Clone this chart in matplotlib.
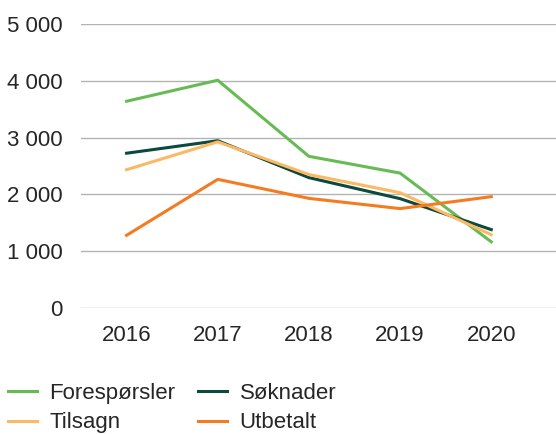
import matplotlib.pyplot as plt
from matplotlib.ticker import FuncFormatter

plt.rcParams['font.family'] = ['Liberation Sans', 'DejaVu Sans']

years = ['2016', '2017', '2018', '2019', '2020']
foresporsler = [3640, 4010, 2670, 2375, 1165]
soknader = [2725, 2945, 2295, 1925, 1380]
tilsagn = [2435, 2925, 2350, 2030, 1290]
utbetalt = [1280, 2265, 1930, 1750, 1960]

series = [
    ('Forespørsler', foresporsler, '#66bb55'),
    ('Søknader', soknader, '#0c4a3e'),
    ('Tilsagn', tilsagn, '#fdb863'),
    ('Utbetalt', utbetalt, '#f47b20'),
]

fig = plt.figure(figsize=(5.56, 4.34), dpi=100)
ax = fig.add_axes([81 / 556, 1 - 308 / 434, 1 - 81 / 556, (308 - 24) / 434])

x = range(len(years))
for name, vals, col in series:
    ax.plot(x, vals, color=col, linewidth=2.2, label=name, clip_on=False)

ax.set_ylim(0, 5000)
ax.set_xlim(-0.5, 4.71)
ax.set_yticks([0, 1000, 2000, 3000, 4000, 5000])
ax.yaxis.set_major_formatter(FuncFormatter(lambda v, p: f'{int(v):,}'.replace(',', ' ')))
ax.set_xticks(list(x))
ax.set_xticklabels(years)
ax.tick_params(length=0, labelsize=16, labelcolor='#262626')
ax.tick_params(axis='y', pad=13)
ax.tick_params(axis='x', pad=12.5)
ax.grid(True, axis='y', color='#b3b3b3', linewidth=1)
ax.set_axisbelow(True)
for s in ax.spines.values():
    s.set_visible(False)

handles, labels = ax.get_legend_handles_labels()
order = [0, 2, 1, 3]
fig.legend([handles[i] for i in order], [labels[i] for i in order],
           loc='upper left', bbox_to_anchor=(8 / 556, 1 - 383 / 434),
           ncol=2, frameon=False, fontsize=16, handlelength=1.3,
           handletextpad=0.55, columnspacing=1.05, labelspacing=0.38,
           borderpad=0, borderaxespad=0, labelcolor='#262626')

plt.savefig('out.png', dpi=100)
